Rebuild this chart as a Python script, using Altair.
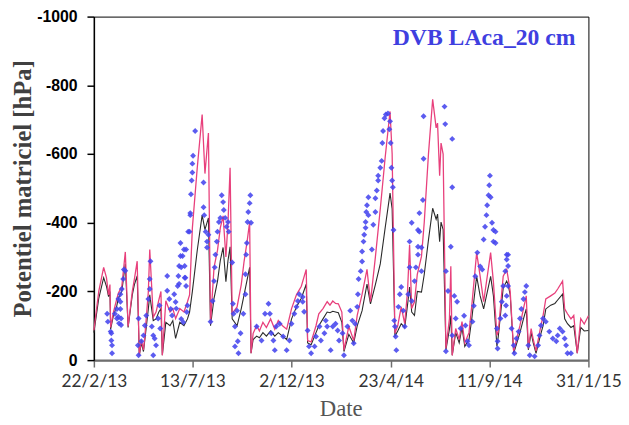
import altair as alt
import pandas as pd

START = "2013-02-22"

# Lines: day offset from 22/2/13, magnitudes of suction in hPa (plotted as negative values)
line_day = [0, 7, 14, 18, 21, 23, 24, 28, 33, 35, 40, 45, 49, 55, 58, 62, 65, 68, 71, 73, 78, 80,
            85, 89, 93, 96, 98, 103, 109, 113, 117, 123, 129, 134, 137, 141, 148, 155, 159, 164,
            167, 172, 177, 181, 185, 189, 192, 195, 198, 205, 211, 215, 219, 223, 225, 228, 233,
            237, 242, 247, 253, 259, 264, 270, 276, 283, 290, 297, 304, 306, 311, 318, 322, 328,
            334, 338, 342, 346, 350, 355, 358, 365, 372, 377, 384, 391, 396, 403, 410, 417, 424,
            427, 431, 435, 440, 445, 449, 452, 455, 459, 463, 469, 473, 479, 485, 490, 492, 495,
            497, 500, 504, 509, 511, 513, 518, 523, 527, 531, 537, 541, 548, 553, 558, 568, 572,
            577, 579, 586, 591, 593, 596, 601, 610, 615, 619, 622, 626, 629, 633, 639, 643, 647,
            654, 660, 664, 671, 674, 678, 683, 687, 692, 697, 702, 708]
pink_val = [87, 200, 270, 240, 190, 220, 95, 140, 180, 195, 215, 315, 98, 200, 236, 288, 14, 60, 30,
            70, 200, 322, 125, 140, 175, 200, 14, 173, 140, 150, 121, 150, 140, 170, 190, 385, 560,
            715, 543, 661, 106, 270, 320, 385, 420, 300, 400, 560, 135, 155, 220, 287, 340, 402,
            20, 78, 100, 85, 110, 95, 120, 90, 115, 100, 90, 150, 190, 215, 264, 57, 53, 100, 135,
            150, 170, 160, 172, 165, 164, 140, 29, 98, 57, 130, 192, 264, 170, 300, 440, 590, 724,
            600, 78, 100, 155, 106, 200, 336, 150, 170, 250, 302, 402, 600, 759, 676, 690, 537,
            632, 600, 34, 120, 273, 14, 92, 60, 112, 50, 80, 158, 313, 244, 170, 313, 227, 72, 83,
            244, 264, 240, 200, 26, 101, 150, 187, 34, 92, 60, 26, 90, 129, 178, 187, 195, 207,
            230, 149, 135, 120, 130, 20, 121, 105, 129]
black_val = [80, 180, 240, 215, 185, 200, 90, 130, 160, 180, 200, 280, 95, 190, 220, 245, 14, 50, 25,
             60, 150, 190, 115, 120, 140, 150, 14, 110, 100, 115, 63, 110, 100, 120, 140, 200, 320,
             422, 380, 414, 100, 180, 230, 290, 328, 228, 290, 330, 120, 100, 150, 190, 230, 270,
             20, 60, 70, 65, 80, 70, 85, 70, 80, 70, 60, 120, 155, 180, 221, 50, 45, 80, 100, 120,
             140, 138, 142, 140, 138, 110, 25, 75, 50, 100, 144, 221, 164, 220, 280, 385, 486, 440,
             70, 85, 106, 95, 160, 213, 140, 130, 200, 198, 250, 350, 442, 410, 425, 345, 402, 380,
             30, 90, 130, 14, 80, 50, 95, 40, 60, 120, 244, 187, 149, 244, 187, 40, 70, 210, 230,
             220, 190, 20, 80, 120, 149, 30, 80, 50, 20, 70, 100, 149, 160, 165, 175, 192, 120,
             106, 95, 100, 20, 95, 85, 86]

# Measured points
blue_day = [19, 20, 24, 25, 25, 26, 26, 30, 33, 33, 35, 35, 36, 38, 38, 38, 39, 39, 40, 42, 43, 45,
            63, 64, 64, 68, 71, 73, 75, 78, 80, 80, 81, 83, 85, 85, 87, 89, 92, 94, 95,
            105, 105, 108, 110, 112, 115, 117, 118, 120, 121, 122, 122, 124, 124, 125, 125, 127,
            128, 129, 130, 130, 131, 132, 132, 133, 134, 135, 137, 138, 138, 139, 140, 141, 141,
            142, 145,
            157, 157, 158, 160, 162, 162, 164, 167, 170, 172, 173, 174, 176, 177, 179, 181, 183,
            185, 186, 188, 190, 192, 193, 198, 199, 200, 202, 202, 205, 206, 207, 210, 214, 217,
            217, 218, 219, 220, 221, 223, 224, 225,
            233, 240, 245, 250, 252, 254, 257, 259, 261, 266, 271, 276, 280, 283, 287, 290, 292,
            294, 299, 299, 301, 306, 308, 311, 316, 318, 323, 325, 330, 332, 334, 339, 342, 346,
            349, 351, 356, 358, 363, 367, 370, 372, 374, 377, 378, 379, 382, 384, 384, 386, 387,
            389, 389, 390, 391, 393, 393, 398, 400, 403, 403, 405, 407, 407, 410, 412, 413, 414,
            416, 418, 421, 423, 424, 425, 426, 427, 428, 429, 430, 431, 432, 433, 436, 438, 440,
            443, 445, 450, 452, 452, 455, 455, 459, 461, 464, 464, 464, 466, 466, 469, 469, 471,
            472, 472,
            502, 503, 504, 504, 507, 511, 513, 513, 513, 516, 518, 520, 525, 530, 532, 535, 537,
            542, 544, 546, 549, 553, 556, 558, 560, 562, 563, 565, 566, 567, 568, 570, 572, 572,
            575, 575, 577, 578, 578, 582, 584, 586, 589, 589, 590, 591, 591, 591, 593, 593, 593,
            598, 601, 602, 605, 608, 610, 612, 615, 617, 619, 622, 624, 631, 636, 638, 640, 643,
            647, 652, 657, 662, 664, 667, 671, 674, 676, 678, 683]
blue_val = [135, 112, 83, 78, 57, 43, 20, 135, 149, 121, 178, 126, 107, 192, 170, 149, 121, 102, 207,
            236, 264, 260,
            43, 121, 14, 55, 72, 101, 130, 178, 207, 236, 288, 98, 72, 14, 63, 43, 121, 159, 92,
            245, 202, 178, 149, 130, 192, 169, 150, 216, 245, 274, 222, 341, 303, 270, 120, 303,
            110, 322, 274, 240, 240, 216, 322, 140, 159, 374, 374, 422, 428, 483, 523, 546, 572,
            595, 667,
            517, 445, 422, 374, 345, 328, 365, 112, 172, 230, 270, 307, 345, 374, 402, 414, 480,
            460, 437, 414, 388, 402, 374, 284, 164, 135, 98, 40, 144, 55, 20, 78, 135, 192, 250,
            307, 341, 402, 431, 457, 480, 400,
            98, 57, 135, 164, 135, 78, 57, 29, 98, 106, 69, 29, 57, 106, 135, 155, 172, 192, 170,
            184, 141, 86, 40, 20, 40, 69, 98, 57, 78, 115, 98, 29, 98, 106, 86, 57, 78, 14, 98,
            144, 115, 49, 106, 155, 192, 236, 259, 287, 316, 345, 365, 385, 402, 431, 451, 474,
            422, 322, 394, 431, 471, 494, 523, 537, 560, 580, 632, 667, 704, 715, 718, 672, 695,
            632, 560, 523, 503, 379, 115, 98, 69, 29, 155, 192, 213, 144, 98, 192, 270, 345, 400,
            172, 230, 270, 307, 379, 330, 374, 428, 328, 259, 466, 586, 710,
            738, 687, 259, 26, 201, 330, 644, 503, 72, 187, 121, 170, 92, 129, 101, 55, 43, 112,
            158, 244, 313, 273, 264, 351, 388, 422, 451, 480, 509, 537, 474, 400, 379, 345, 341,
            374, 92, 55, 34, 121, 170, 216, 259, 130, 159, 187, 293, 307, 307, 274, 216, 92, 43,
            20, 63, 83, 121, 149, 178, 198, 216, 43, 14, 11, 43, 72, 101, 121, 112, 83, 63, 55,
            72, 92, 83, 63, 43, 20, 20]

tick_dates = [(2013, 2, 22), (2013, 7, 13), (2013, 12, 2), (2014, 4, 23), (2014, 9, 11), (2015, 1, 31)]
y_ticks = [-1000, -800, -600, -400, -200, 0]
chart_label = "DVB LAca_20 cm"

assert len(line_day) == len(pink_val) == len(black_val)
assert len(blue_day) == len(blue_val)

t0 = pd.Timestamp(START)
lines = pd.DataFrame({
    "date": t0 + pd.to_timedelta(line_day, unit="D"),
    "pink": [-v for v in pink_val],
    "black": [-v for v in black_val],
})
pts = pd.DataFrame({
    "date": t0 + pd.to_timedelta(blue_day, unit="D"),
    "val": [-v for v in blue_val],
})

dt = lambda t: alt.DateTime(year=t[0], month=t[1], date=t[2])

x_enc = alt.X(
    "date:T",
    scale=alt.Scale(domain=[dt(tick_dates[0]), dt(tick_dates[-1])]),
    axis=alt.Axis(
        values=[dt(t) for t in tick_dates], format="%-d/%-m/%y", labelFlush=False,
        labelOverlap=False, grid=False, tickSize=7, tickColor="#6e6e6e", tickWidth=1.5,
        domainColor="#6e6e6e", domainWidth=2.5, labelFont="Lato", labelFontSize=17.5,
        labelColor="#333333", labelPadding=6, title="Date", titleFont="Liberation Serif",
        titleFontSize=23, titleFontWeight="normal", titleColor="#555555", titleX=250,
        titleY=56, titleBaseline="alphabetic", titleAlign="center",
    ),
)
y_scale = alt.Scale(domain=[-1000, 0], reverse=True, nice=False)
y_axis = alt.Axis(
    values=y_ticks, labelExpr="toString(datum.value)", grid=False, tickSize=7,
    tickColor="black", tickWidth=1.5, domainColor="black", domainWidth=1.5,
    labelFont="Liberation Sans", labelFontWeight="bold", labelFontSize=16,
    labelColor="black", labelPadding=10, title="Potentiel matriciel [hPa]",
    titleFont="Liberation Serif", titleFontSize=25, titleFontWeight="bold",
    titleColor="#404040", titleAngle=270, titleX=-64, titleY=174,
    titleAlign="center", titleBaseline="alphabetic",
)

base = alt.Chart(lines)
black_line = base.mark_line(color="#2a2a2a", strokeWidth=1.1).encode(
    x=x_enc, y=alt.Y("black:Q", scale=y_scale, axis=y_axis))
pink_line = base.mark_line(color="#E8407C", strokeWidth=1.3).encode(
    x=x_enc, y=alt.Y("pink:Q", scale=y_scale, axis=y_axis))
points = alt.Chart(pts).mark_point(shape="diamond", filled=True, size=36, color="#4646EE",
                                   opacity=0.88).encode(
    x=x_enc, y=alt.Y("val:Q", scale=y_scale, axis=y_axis))
label = alt.Chart(pd.DataFrame({"t": [chart_label]})).mark_text(
    font="Liberation Serif", fontSize=24, fontWeight="bold", color="#3F3FE0",
    align="right", baseline="alphabetic").encode(
    text="t:N", x=alt.value(488), y=alt.value(29))

chart = alt.layer(black_line, pink_line, points, label).properties(
    width=501, height=348,
    autosize=alt.AutoSizeParams(type="none"),
    padding={"left": 87, "top": 6, "right": 33, "bottom": 62},
).configure_view(stroke="black", strokeWidth=1)

chart.save("out.html", embed_options={"renderer": "svg", "actions": False})
